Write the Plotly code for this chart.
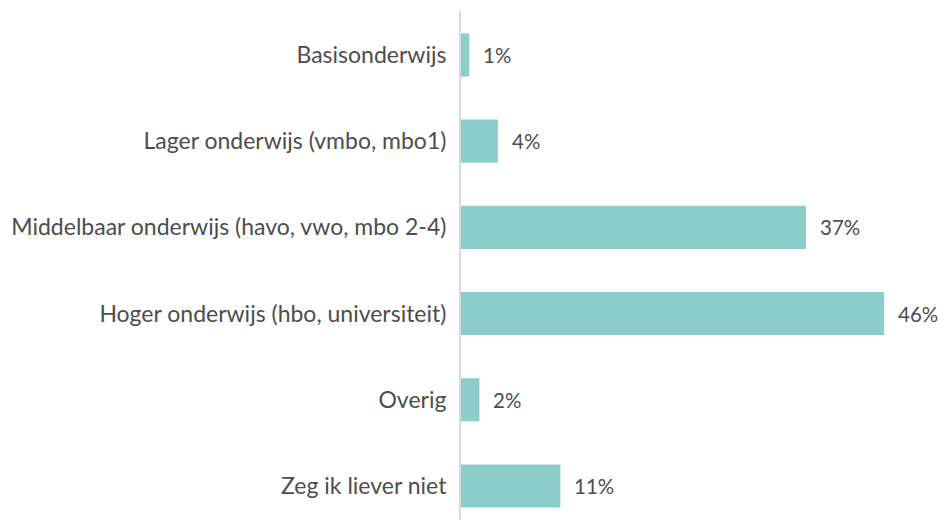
import plotly.graph_objects as go

categories = [
    "Basisonderwijs",
    "Lager onderwijs (vmbo, mbo1)",
    "Middelbaar onderwijs (havo, vwo, mbo 2-4)",
    "Hoger onderwijs (hbo, universiteit)",
    "Overig",
    "Zeg ik liever niet",
]
values = [0.9, 4.0, 37.5, 46.0, 2.0, 10.8]
labels = ["1%", "4%", "37%", "46%", "2%", "11%"]

BAR = "#8BCDCA"
TXT = "#4D4D4D"
FONT = "Lato"
FS = 23
FS_VAL = 20.5

fig = go.Figure()
fig.add_trace(go.Bar(
    y=categories, x=values, orientation="h",
    marker=dict(color=BAR, line=dict(width=0)),
    width=0.5, hoverinfo="skip",
))
for c, v, t in zip(categories, values, labels):
    fig.add_annotation(x=v, y=c, text=t, showarrow=False, xanchor="left",
                       xshift=12, font=dict(family=FONT, size=FS_VAL, color=TXT))

fig.update_layout(
    width=930, height=512,
    margin=dict(l=453, r=0, t=3, b=0),
    paper_bgcolor="white", plot_bgcolor="white",
    showlegend=False,
    xaxis=dict(range=[0, 51.85], visible=False),
    yaxis=dict(
        type="category", categoryorder="array", categoryarray=categories,
        range=[5.395, -0.51],
        showline=True, linecolor="#D9D9D9", linewidth=2,
        showgrid=False, zeroline=False, ticks="",
        ticklabelstandoff=8,
        tickfont=dict(family=FONT, size=FS, color=TXT),
    ),
)
fig.write_html("out.html")
